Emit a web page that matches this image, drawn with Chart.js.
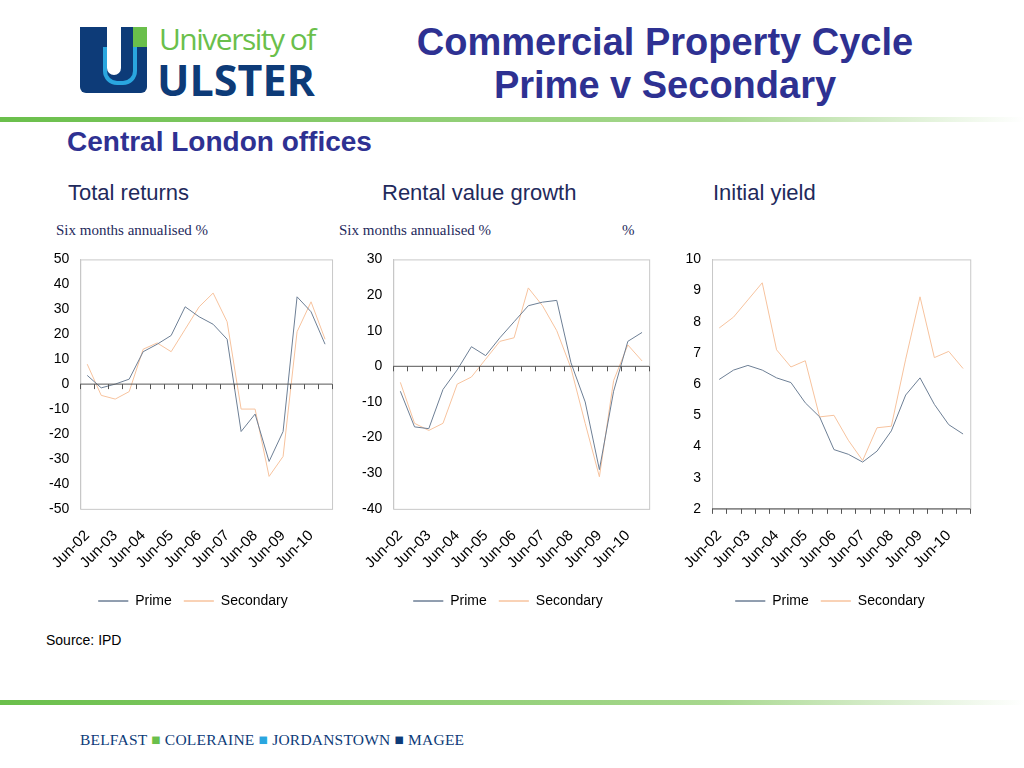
<!DOCTYPE html>
<html><head><meta charset="utf-8">
<script src="https://cdn.jsdelivr.net/npm/chart.js@4"></script>
<style>
body{margin:0;width:1024px;height:768px;background:#fff;font-family:"Liberation Sans",Arial,sans-serif;position:relative;overflow:hidden}
.abs{position:absolute}
.t{color:#2e3192;font-weight:bold}
.h{color:#1f2a5c;font-size:22px}
.s{font-family:"Liberation Serif",serif;font-size:15px;color:#1f2a5c}
canvas{position:absolute}
</style></head><body>
<div class="abs" style="left:80px;top:27px;width:67px;height:66px;background:#0d3b78;border-radius:0 0 6px 6px"></div>
<div class="abs" style="left:133px;top:27px;width:14px;height:20px;background:#6abf4b"></div>
<div class="abs" style="left:107px;top:27px;width:14px;height:48px;background:#fff;border-radius:0 0 7px 7px"></div>
<div class="abs" style="left:103px;top:47px;width:26px;height:34px;border:4px solid #2aa6df;border-top:none;border-radius:0 0 14px 14px"></div>
<div class="abs" style="left:159px;top:18px;font-family:'Open Sans',sans-serif;font-size:30px;color:#6abf4b;letter-spacing:-1.5px">University of</div>
<div class="abs" style="left:157px;top:50px;font-family:'Open Sans',sans-serif;font-weight:bold;font-size:43px;color:#0d3b78;letter-spacing:0px">ULSTER</div>
<div class="abs t" style="left:370px;top:21px;width:590px;text-align:center;font-size:38px;line-height:43px">Commercial Property Cycle<br>Prime v Secondary</div>
<div class="abs" style="left:0;top:117px;width:1024px;height:5px;background:linear-gradient(to right,#6abf4b,#a8d88f 70%,#fff)"></div>
<div class="abs t" style="left:67px;top:126px;font-size:28px">Central London offices</div>
<div class="abs h" style="left:68px;top:180px">Total returns</div>
<div class="abs h" style="left:382px;top:180px">Rental value growth</div>
<div class="abs h" style="left:713px;top:180px">Initial yield</div>
<div class="abs s" style="left:56px;top:222px">Six months annualised %</div>
<div class="abs s" style="left:339px;top:222px">Six months annualised %</div>
<div class="abs s" style="left:622px;top:222px">%</div>
<div class="abs" style="left:46px;top:632px;font-size:14px">Source: IPD</div>
<div class="abs" style="left:0;top:700px;width:1024px;height:5px;background:linear-gradient(to right,#6abf4b,#a8d88f 70%,#fff)"></div>
<div class="abs" style="left:80px;top:731px;font-family:'Liberation Serif',serif;font-size:15.5px;color:#0d3b78;letter-spacing:0.2px">BELFAST <span style="color:#6abf4b">■</span> COLERAINE <span style="color:#2aa6df">■</span> JORDANSTOWN <span style="color:#0d3b78">■</span> MAGEE</div>
<canvas id="c1" style="left:38px;top:248px" width="310" height="370"></canvas>
<canvas id="c2" style="left:355px;top:248px" width="310" height="370"></canvas>
<canvas id="c3" style="left:676px;top:248px" width="310" height="370"></canvas>
<script>
const periods = ['Jun-02','Dec-02','Jun-03','Dec-03','Jun-04','Dec-04','Jun-05','Dec-05','Jun-06','Dec-06','Jun-07','Dec-07','Jun-08','Dec-08','Jun-09','Dec-09','Jun-10','Dec-10'];
const returnsPrime = [3.5,-1.5,0,2,13,16,19.5,31,27,24,18,-19,-12,-31,-19,35,29,16];
const returnsSecondary = [8,-4.5,-6,-3,14,16.5,13,22,31,36.5,25,-10,-10,-37,-29,21,33,18];
const rentPrime = [-7,-17,-17.5,-6.5,-1,5.5,3,8,12.5,17,18,18.5,1,-10,-29,-7,7,9.5];
const rentSecondary = [-4.5,-16,-18,-16,-5,-3,2,7,8,22,17,10,-0.5,-16,-31,-4,6,1.5];
const yieldPrime = [6.15,6.45,6.6,6.45,6.2,6.05,5.4,4.95,3.9,3.75,3.5,3.85,4.5,5.65,6.2,5.35,4.7,4.4];
const yieldSecondary = [7.8,8.15,8.7,9.25,7.1,6.55,6.75,4.95,5,4.2,3.55,4.6,4.65,6.8,8.8,6.85,7.05,6.5];

const frame = {
  id: 'frame',
  afterDraw(chart) {
    const {ctx, chartArea: a, scales} = chart;
    ctx.save();
    ctx.strokeStyle = '#c8c8c8'; ctx.lineWidth = 1;
    ctx.strokeRect(a.left + 0.5, a.top + 0.5, a.width, a.height);
    // category axis line with ticks at zero (or bottom)
    const y = Math.min(Math.max(scales.y.getPixelForValue(0), a.top), a.bottom);
    ctx.strokeStyle = '#555';
    ctx.beginPath();
    ctx.moveTo(a.left, y); ctx.lineTo(a.right, y);
    const n = chart.data.labels.length;
    const step = a.width / n;
    for (let i = 0; i <= n; i++) {
      const x = Math.round(a.left + i * step) + 0.5;
      ctx.moveTo(x, y); ctx.lineTo(x, y + 5);
    }
    ctx.stroke();
    ctx.restore();
  }
};

function makeChart(id, prime, secondary, min, max, step, padLeft) {
  new Chart(document.getElementById(id), {
    type: 'line',
    data: {
      labels: periods,
      datasets: [
        {label: 'Prime', data: prime, borderColor: '#6d7f95', borderWidth: 1, pointRadius: 0, tension: 0},
        {label: 'Secondary', data: secondary, borderColor: '#f7c39e', borderWidth: 1, pointRadius: 0, tension: 0}
      ]
    },
    options: {
      responsive: false, animation: false,
      layout: {padding: {right: 8, left: padLeft}},
      plugins: {
        legend: {position: 'bottom', labels: {color: '#000', font: {size: 14, family: 'Liberation Sans'}, boxWidth: 30, boxHeight: 0, padding: 12}},
        tooltip: {enabled: false}
      },
      scales: {
        x: {
          offset: true,
          grid: {display: false},
          border: {display: false},
          ticks: {autoSkip: false, maxRotation: 45, minRotation: 45, padding: 10, color: '#000', font: {size: 15, family: 'Liberation Sans'},
            callback: (v, i) => i % 2 === 0 ? periods[i] : ''}
        },
        y: {
          min, max,
          grid: {display: false},
          border: {color: '#c8c8c8'},
          ticks: {stepSize: step, color: '#000', font: {size: 14, family: 'Liberation Sans'}}
        }
      }
    },
    plugins: [frame]
  });
}
makeChart('c1', returnsPrime, returnsSecondary, -50, 50, 10, 8);
makeChart('c2', rentPrime, rentSecondary, -40, 30, 10, 4);
makeChart('c3', yieldPrime, yieldSecondary, 2, 10, 1, 6);
</script>
</body></html>
